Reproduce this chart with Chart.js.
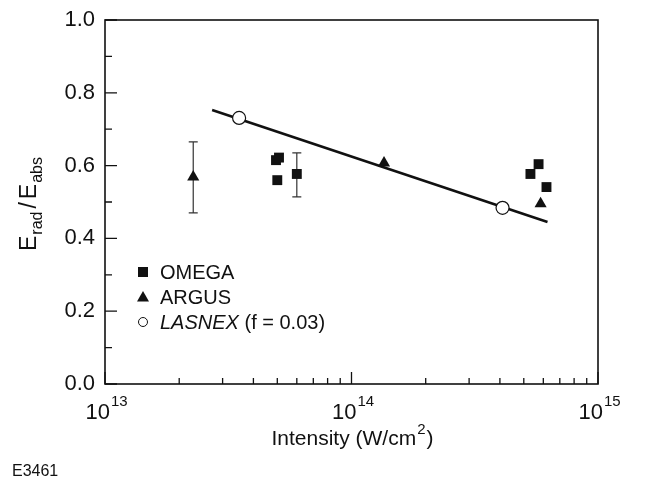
<!DOCTYPE html>
<html lang="en">
<head>
    <meta charset="UTF-8">
    <title>Erad/Eabs vs Intensity</title>
    <style>
        body {
            margin: 0;
            padding: 0;
            background: #ffffff;
        }
        .wrap {
            width: 672px;
            height: 490px;
        }
    </style>
</head>
<body>
    <div class="wrap">
        <canvas id="myChart" width="672" height="490"></canvas>
    </div>

    <script src="https://cdn.jsdelivr.net/npm/chart.js"></script>
    <script>
        // data
        const omegaX = [4.94e13, 5.08e13, 5.0e13, 6.0e13, 5.32e14, 5.74e14, 6.18e14];
        const omegaY = [0.615, 0.622, 0.56, 0.577, 0.577, 0.604, 0.541];
        const omegaLo = [null, null, null, 0.514, null, null, null];
        const omegaHi = [null, null, null, 0.635, null, null, null];

        const argusX = [2.28e13, 1.355e14, 5.85e14];
        const argusY = [0.569, 0.607, 0.495];
        const argusLo = [0.47, null, null];
        const argusHi = [0.665, null, null];

        const lasnexX = [3.5e13, 4.1e14];
        const lasnexY = [0.731, 0.484];

        const fitX = [2.72e13, 6.24e14];
        const fitY = [0.753, 0.445];

        const yTicks = [0, 0.2, 0.4, 0.6, 0.8, 1.0];
        const yTickLabels = ['0.0', '0.2', '0.4', '0.6', '0.8', '1.0'];
        const yMinor = [0.1, 0.3, 0.5, 0.7, 0.9];
        const xDecades = [1e13, 1e14, 1e15];
        const xExponents = ['13', '14', '15'];

        const FONT = '"Liberation Sans", Arial, sans-serif';
        const INK = '#111';

        function pts(xs, ys) {
            return xs.map((x, i) => ({ x: x, y: ys[i] }));
        }

        const overlay = {
            id: 'overlay',
            beforeDatasetsDraw(chart) {
                const ctx = chart.ctx;
                const xs = chart.scales.x, ys = chart.scales.y;
                ctx.save();
                ctx.strokeStyle = '#333';
                ctx.lineWidth = 1.2;
                const bars = [[omegaX, omegaLo, omegaHi], [argusX, argusLo, argusHi]];
                bars.forEach(([xv, lo, hi]) => {
                    xv.forEach((x, i) => {
                        if (lo[i] == null) return;
                        const px = xs.getPixelForValue(x);
                        const p1 = ys.getPixelForValue(lo[i]);
                        const p2 = ys.getPixelForValue(hi[i]);
                        ctx.beginPath();
                        ctx.moveTo(px, p1); ctx.lineTo(px, p2);
                        ctx.moveTo(px - 4.5, p1); ctx.lineTo(px + 4.5, p1);
                        ctx.moveTo(px - 4.5, p2); ctx.lineTo(px + 4.5, p2);
                        ctx.stroke();
                    });
                });
                ctx.restore();
            },
            afterDraw(chart) {
                const ctx = chart.ctx;
                const a = chart.chartArea;
                const xs = chart.scales.x, ys = chart.scales.y;
                ctx.save();

                // frame
                ctx.strokeStyle = INK;
                ctx.lineWidth = 1.6;
                ctx.strokeRect(a.left, a.top, a.right - a.left, a.bottom - a.top);

                // y ticks (inward)
                ctx.lineWidth = 1.3;
                ctx.beginPath();
                yTicks.forEach(v => {
                    const py = ys.getPixelForValue(v);
                    ctx.moveTo(a.left, py); ctx.lineTo(a.left + 12, py);
                });
                yMinor.forEach(v => {
                    const py = ys.getPixelForValue(v);
                    ctx.moveTo(a.left, py); ctx.lineTo(a.left + 7, py);
                });
                // x ticks (inward)
                xDecades.forEach(v => {
                    const px = xs.getPixelForValue(v);
                    ctx.moveTo(px, a.bottom); ctx.lineTo(px, a.bottom - 12);
                });
                for (let d = 0; d < xDecades.length - 1; d++) {
                    for (let m = 2; m <= 9; m++) {
                        const px = xs.getPixelForValue(xDecades[d] * m);
                        ctx.moveTo(px, a.bottom); ctx.lineTo(px, a.bottom - 6);
                    }
                }
                ctx.stroke();

                ctx.fillStyle = INK;

                // y tick labels
                ctx.font = '22px ' + FONT;
                ctx.textAlign = 'right';
                ctx.textBaseline = 'middle';
                yTicks.forEach((v, i) => {
                    ctx.fillText(yTickLabels[i], a.left - 10, ys.getPixelForValue(v));
                });

                // x tick labels 10^n
                xDecades.forEach((v, i) => {
                    const px = xs.getPixelForValue(v);
                    ctx.font = '22px ' + FONT;
                    const w1 = ctx.measureText('10').width;
                    ctx.font = '15px ' + FONT;
                    const w2 = ctx.measureText(xExponents[i]).width;
                    const x0 = px - (w1 + w2) / 2 + 1;
                    ctx.textAlign = 'left';
                    ctx.textBaseline = 'alphabetic';
                    ctx.font = '22px ' + FONT;
                    ctx.fillText('10', x0, a.bottom + 35);
                    ctx.font = '15px ' + FONT;
                    ctx.fillText(xExponents[i], x0 + w1 + 1, a.bottom + 22);
                });

                // x axis title
                ctx.font = '21px ' + FONT;
                const t1 = 'Intensity (W/cm';
                const wt1 = ctx.measureText(t1).width;
                ctx.font = '15px ' + FONT;
                const wsup = ctx.measureText('2').width;
                ctx.font = '21px ' + FONT;
                const wt3 = ctx.measureText(')').width;
                let tx = (a.left + a.right) / 2 - (wt1 + wsup + wt3) / 2;
                ctx.textAlign = 'left';
                ctx.fillText(t1, tx, a.bottom + 61);
                ctx.font = '15px ' + FONT;
                ctx.fillText('2', tx + wt1 + 1, a.bottom + 50);
                ctx.font = '21px ' + FONT;
                ctx.fillText(')', tx + wt1 + wsup + 2, a.bottom + 61);

                // y axis title (rotated)
                ctx.save();
                ctx.translate(36, 204);
                ctx.rotate(-Math.PI / 2);
                const parts = [['E', 23, 0, 1], ['rad', 16, 6, 3], ['/', 23, 0, 3], ['E', 23, 0, 1], ['abs', 16, 6, 0]];
                let total = 0;
                parts.forEach(p => { ctx.font = p[1] + 'px ' + FONT; total += ctx.measureText(p[0]).width + p[3]; });
                let cx = -total / 2;
                parts.forEach(p => {
                    ctx.font = p[1] + 'px ' + FONT;
                    ctx.fillText(p[0], cx, p[2]);
                    cx += ctx.measureText(p[0]).width + p[3];
                });
                ctx.restore();

                // legend
                const lx = 143;
                const rows = [272, 297, 322];
                ctx.fillStyle = INK;
                ctx.fillRect(lx - 5, rows[0] - 5, 10, 10);
                ctx.beginPath();
                ctx.moveTo(lx, rows[1] - 6);
                ctx.lineTo(lx + 6, rows[1] + 4.5);
                ctx.lineTo(lx - 6, rows[1] + 4.5);
                ctx.closePath();
                ctx.fill();
                ctx.beginPath();
                ctx.arc(lx, rows[2], 4.5, 0, Math.PI * 2);
                ctx.lineWidth = 1;
                ctx.stroke();

                ctx.textAlign = 'left';
                ctx.textBaseline = 'middle';
                ctx.font = '20px ' + FONT;
                ctx.fillText('OMEGA', 160, rows[0] + 1);
                ctx.fillText('ARGUS', 160, rows[1] + 1);
                ctx.font = 'italic 20px ' + FONT;
                ctx.fillText('LASNEX', 160, rows[2] + 1);
                const wl = ctx.measureText('LASNEX').width;
                ctx.font = '20px ' + FONT;
                ctx.fillText(' (f = 0.03)', 160 + wl, rows[2] + 1);

                // figure id
                ctx.font = '16px ' + FONT;
                ctx.textBaseline = 'alphabetic';
                ctx.fillText('E3461', 12, 476);

                ctx.restore();
            }
        };

        const ctx = document.getElementById('myChart').getContext('2d');
        const myChart = new Chart(ctx, {
            type: 'scatter',
            data: {
                datasets: [
                    {
                        label: 'fit',
                        data: pts(fitX, fitY),
                        showLine: true,
                        borderColor: INK,
                        borderWidth: 2.6,
                        pointRadius: 0,
                        order: 3
                    },
                    {
                        label: 'OMEGA',
                        data: pts(omegaX, omegaY),
                        pointStyle: 'rect',
                        pointRadius: 7,
                        backgroundColor: INK,
                        borderColor: INK,
                        borderWidth: 0,
                        order: 1
                    },
                    {
                        label: 'ARGUS',
                        data: pts(argusX, argusY),
                        pointStyle: 'triangle',
                        pointRadius: 7,
                        backgroundColor: INK,
                        borderColor: INK,
                        borderWidth: 0,
                        order: 1
                    },
                    {
                        label: 'LASNEX (f = 0.03)',
                        data: pts(lasnexX, lasnexY),
                        pointStyle: 'circle',
                        pointRadius: 6.5,
                        backgroundColor: '#ffffff',
                        borderColor: INK,
                        borderWidth: 1.2,
                        order: 0
                    }
                ]
            },
            options: {
                responsive: false,
                animation: false,
                layout: {
                    padding: { left: 105, right: 74, top: 20, bottom: 106 }
                },
                plugins: {
                    legend: { display: false },
                    tooltip: { enabled: false }
                },
                scales: {
                    x: {
                        type: 'logarithmic',
                        min: 1e13,
                        max: 1e15,
                        display: false
                    },
                    y: {
                        type: 'linear',
                        min: 0,
                        max: 1,
                        display: false
                    }
                }
            },
            plugins: [overlay]
        });
    </script>
</body>
</html>
